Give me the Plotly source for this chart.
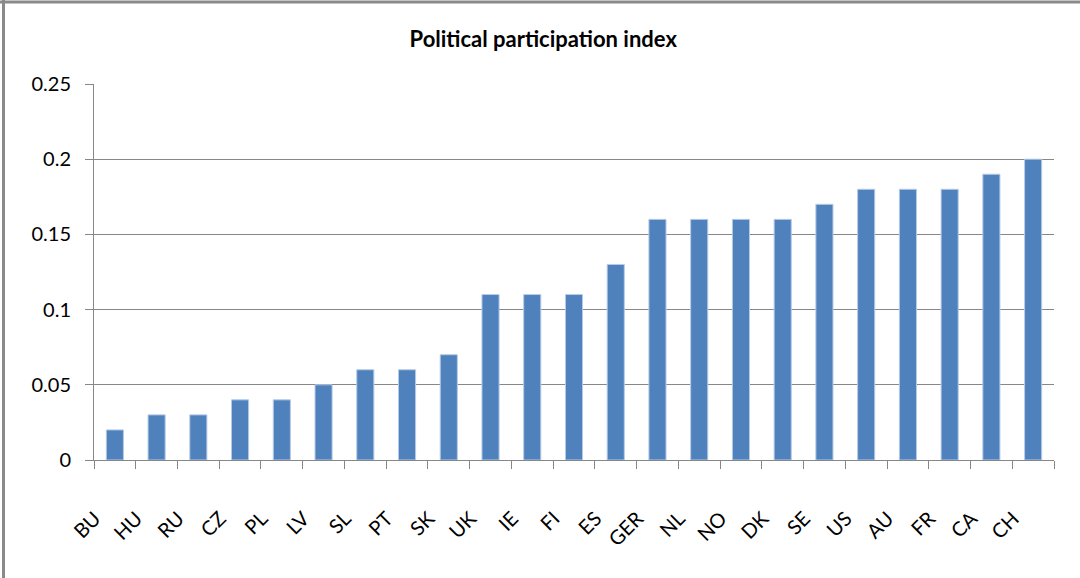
import plotly.graph_objects as go

# Country codes and their political participation index
countries = ["BU", "HU", "RU", "CZ", "PL", "LV", "SL", "PT", "SK", "UK", "IE", "FI",
             "ES", "GER", "NL", "NO", "DK", "SE", "US", "AU", "FR", "CA", "CH"]
index_values = [0.02, 0.03, 0.03, 0.04, 0.04, 0.05, 0.06, 0.06, 0.07, 0.11, 0.11, 0.11,
                0.13, 0.16, 0.16, 0.16, 0.16, 0.17, 0.18, 0.18, 0.18, 0.19, 0.20]
y_ticks = [0, 0.05, 0.1, 0.15, 0.2, 0.25]
y_tick_text = ["0", "0.05", "0.1", "0.15", "0.2", "0.25"]

FONT = "Lato, 'Open Sans', sans-serif"
GRID = "#878787"

fig = go.Figure(
    go.Bar(
        x=countries,
        y=index_values,
        marker=dict(color="#4F81BD", line=dict(color="#B7CBE6", width=1)),
        hoverinfo="x+y",
    )
)

fig.update_layout(
    width=1080,
    height=578,
    margin=dict(l=94, r=26, t=84, b=118),
    paper_bgcolor="white",
    plot_bgcolor="white",
    bargap=0.59,
    showlegend=False,
    font=dict(family=FONT, size=20, color="#000000"),
    title=dict(
        text="Political participation index",
        x=0.503,
        xanchor="center",
        y=0.932,
        yanchor="middle",
        font=dict(family=FONT, size=22, color="#000000", weight="bold"),
    ),
    xaxis=dict(
        type="category",
        tickangle=-45,
        showline=True,
        linecolor=GRID,
        linewidth=1,
        ticks="outside",
        ticklen=8,
        tickcolor=GRID,
        tickson="boundaries",
        showgrid=False,
        ticklabelstandoff=38,
        ticklabelshift=-20,
        tickfont=dict(family=FONT, size=20, color="#000000"),
        fixedrange=True,
    ),
    yaxis=dict(
        range=[0, 0.25],
        tickvals=y_ticks,
        ticktext=y_tick_text,
        showline=True,
        linecolor=GRID,
        linewidth=1,
        ticks="outside",
        ticklen=8,
        tickcolor=GRID,
        showgrid=True,
        gridcolor=GRID,
        gridwidth=1,
        zeroline=False,
        ticklabelstandoff=10,
        tickfont=dict(family=FONT, size=20, color="#000000"),
        fixedrange=True,
    ),
    shapes=[
        # chart frame: top and left edges
        dict(type="line", xref="paper", yref="paper", x0=-94 / 960, x1=1.1,
             y0=1 + 82 / 376, y1=1 + 82 / 376, line=dict(color="#8A8A8A", width=3)),
        dict(type="line", xref="paper", yref="paper", x0=-90.5 / 960, x1=-90.5 / 960,
             y0=-1, y1=1.5, line=dict(color="#8A8A8A", width=3)),
    ],
)

fig.write_html("out.html", config={"displayModeBar": False})
